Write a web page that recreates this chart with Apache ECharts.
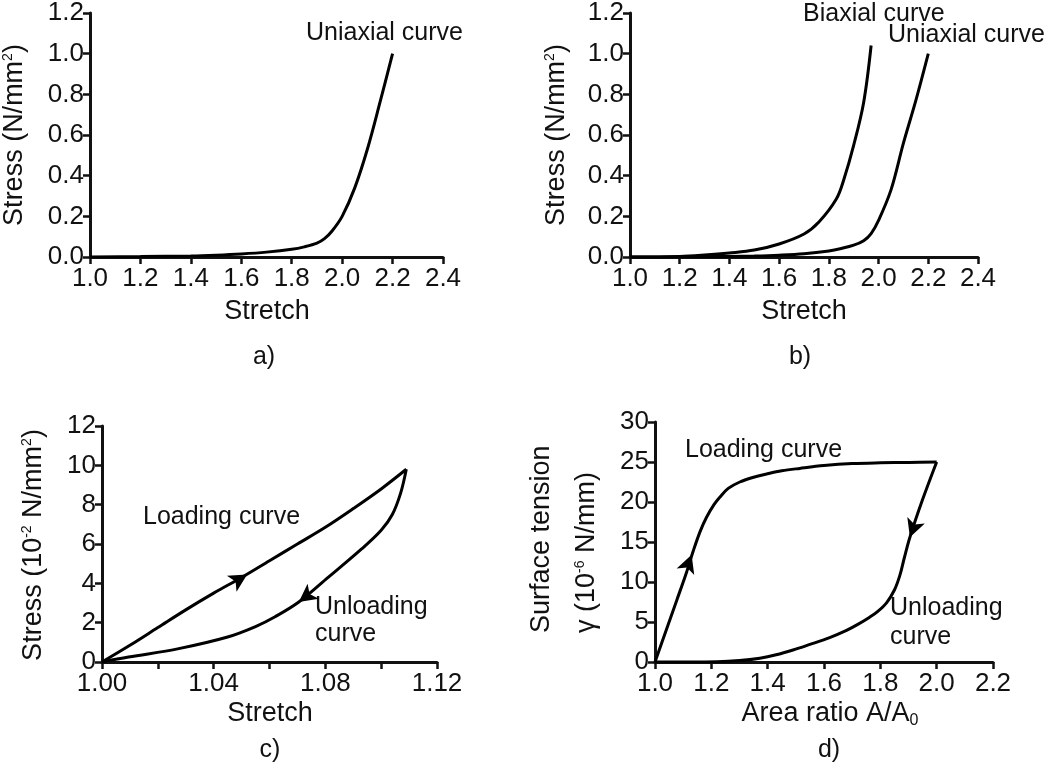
<!DOCTYPE html>
<html>
<head>
<meta charset="utf-8">
<script src="https://cdn.jsdelivr.net/npm/echarts@6/dist/echarts.min.js"></script>
<style>
html,body{margin:0;padding:0;background:#fff;}
#chart{width:1050px;height:775px;}
</style>
</head>
<body>
<div id="chart"></div>
<script>
// ---- Data ----
// Panel a: uniaxial curve
var aUniX = [1.0, 1.2, 1.4, 1.5, 1.6, 1.7, 1.8, 1.85, 1.9, 1.93, 1.96, 2.0, 2.05, 2.1, 2.15, 2.2];
var aUniY = [0, 0.002, 0.005, 0.009, 0.015, 0.024, 0.038, 0.05, 0.068, 0.09, 0.128, 0.2, 0.34, 0.53, 0.76, 1.0];
// Panel b: biaxial and uniaxial curves
var bBiX = [1.0, 1.2, 1.3, 1.4, 1.5, 1.6, 1.7, 1.76, 1.83, 1.86, 1.9, 1.94, 1.97];
var bBiY = [0, 0.003, 0.01, 0.02, 0.034, 0.064, 0.113, 0.172, 0.285, 0.38, 0.55, 0.76, 1.04];
var bUniX = [1.0, 1.2, 1.4, 1.5, 1.6, 1.7, 1.8, 1.85, 1.9, 1.94, 1.97, 2.0, 2.05, 2.1, 2.15, 2.2];
var bUniY = [0, 0.001, 0.003, 0.005, 0.009, 0.016, 0.03, 0.042, 0.058, 0.08, 0.115, 0.18, 0.33, 0.56, 0.77, 1.0];
// Panel c: hysteresis (stress in 1e-2 N/mm2)
var cLoadX = [1.0, 1.01, 1.02, 1.03, 1.04, 1.05, 1.06, 1.07, 1.08, 1.09, 1.1, 1.109];
var cLoadY = [0, 0.85, 1.75, 2.65, 3.5, 4.3, 5.15, 6.0, 6.85, 7.8, 8.8, 9.8];
var cUnloadX = [1.109, 1.107, 1.104, 1.1, 1.093, 1.081, 1.0705, 1.062, 1.055, 1.045, 1.0275, 1.0095, 1.0];
var cUnloadY = [9.8, 8.6, 7.5, 6.7, 5.75, 4.3, 3.05, 2.3, 1.8, 1.27, 0.68, 0.25, 0];
// Panel d: surface tension (1e-6 N/mm) vs area ratio
var dLoadX = [1.0, 1.04, 1.077, 1.11, 1.136, 1.16, 1.183, 1.21, 1.23, 1.26, 1.301, 1.35, 1.396, 1.45, 1.514, 1.6, 1.7, 1.8, 1.9, 2.0];
var dLoadY = [0, 4.0, 7.7, 11.0, 13.9, 16.3, 18.1, 19.7, 20.6, 21.7, 22.5, 23.1, 23.5, 23.9, 24.2, 24.55, 24.8, 24.9, 24.95, 25];
var dUnloadX = [2.0, 1.95, 1.905, 1.885, 1.869, 1.85, 1.822, 1.79, 1.762, 1.72, 1.68, 1.62, 1.55, 1.49, 1.43, 1.372, 1.3, 1.22, 1.0];
var dUnloadY = [25, 20.3, 15.6, 13.0, 10.8, 9.0, 7.4, 6.3, 5.6, 4.7, 3.95, 3.05, 2.2, 1.5, 0.9, 0.48, 0.18, 0.04, 0];
// Arrow positions (on curves)
var cLoadArrow = [1.052, 4.45];
var cUnloadArrow = [1.0705, 3.05];
var dLoadArrow = [1.13, 13.4];
var dUnloadArrow = [1.905, 15.6];
// Tick settings
var stretchTicks = {min: 1.0, max: 2.4, interval: 0.2};
var stressTicks = {min: 0, max: 1.2, interval: 0.2};
var cXTicks = {min: 1.0, max: 1.12, interval: 0.04};
var cYTicks = {min: 0, max: 12, interval: 2};
var dXTicks = {min: 1.0, max: 2.2, interval: 0.2};
var dYTicks = {min: 0, max: 30, interval: 5};

function zip(xs, ys) { return xs.map(function (x, i) { return [x, ys[i]]; }); }

var FONT = "'Liberation Sans', Arial, Helvetica, sans-serif";
var INK = '#111';
var TICKFS = 26;

function xAxis(gi, t, dec, minor) {
  return {
    type: 'value', gridIndex: gi, min: t.min, max: t.max, interval: t.interval,
    axisLine: {show: true, onZero: false, lineStyle: {color: INK, width: 3}},
    axisTick: {show: true, length: 7, lineStyle: {color: INK, width: 2.5}},
    minorTick: minor ? {show: true, splitNumber: 2, length: 7, lineStyle: {color: INK, width: 2.5}} : {show: false},
    splitLine: {show: false},
    axisLabel: {color: INK, fontSize: TICKFS, fontFamily: FONT, margin: 9,
      formatter: function (v) { return v.toFixed(dec); }}
  };
}
function yAxis(gi, t, dec) {
  return {
    type: 'value', gridIndex: gi, min: t.min, max: t.max, interval: t.interval,
    axisLine: {show: true, onZero: false, lineStyle: {color: INK, width: 3}},
    axisTick: {show: true, length: 7, lineStyle: {color: INK, width: 2.5}},
    splitLine: {show: false},
    axisLabel: {color: INK, fontSize: TICKFS, fontFamily: FONT, margin: 6,
      formatter: function (v) { return dec === 0 ? String(Math.round(v)) : v.toFixed(dec); }}
  };
}
function line(xi, yi, xs, ys, arrows) {
  var s = {
    type: 'line', xAxisIndex: xi, yAxisIndex: yi, data: zip(xs, ys),
    showSymbol: false, symbol: 'none', smooth: 0.35, silent: true,
    lineStyle: {color: '#000', width: 3}
  };
  if (arrows) {
    s.markPoint = {
      silent: true, animation: false,
      label: {show: false},
      itemStyle: {color: '#000'},
      data: arrows.map(function (a) {
        return {coord: a.c, symbol: 'arrow', symbolSize: [14, 18], symbolRotate: a.r};
      })
    };
  }
  return s;
}

var txt = function (x, y, text, opts) {
  opts = opts || {};
  return {
    type: 'text', x: x, y: y, rotation: opts.rot || 0, silent: true,
    style: {
      text: text, fill: INK, font: (opts.size || 25) + 'px ' + FONT,
      align: opts.align || 'center', verticalAlign: opts.va || 'middle',
      rich: {
        sup: {fontSize: 14, fontFamily: FONT, fill: INK, verticalAlign: 'top', padding: [0, 0, 12, 0]},
        sub: {fontSize: 16, fontFamily: FONT, fill: INK, padding: [14, 0, 0, 0]}
      }
    }
  };
};

var option = {
  backgroundColor: '#fff',
  animation: false,
  grid: [
    {left: 90, top: 8, width: 353, height: 249},
    {left: 630, top: 8, width: 348, height: 249},
    {left: 102, top: 426, width: 335, height: 236},
    {left: 655, top: 422, width: 338, height: 240}
  ],
  xAxis: [
    xAxis(0, stretchTicks, 1, false),
    xAxis(1, stretchTicks, 1, false),
    xAxis(2, cXTicks, 2, true),
    xAxis(3, dXTicks, 1, false)
  ],
  yAxis: [
    yAxis(0, stressTicks, 1),
    yAxis(1, stressTicks, 1),
    yAxis(2, cYTicks, 0),
    yAxis(3, dYTicks, 0)
  ],
  series: [
    line(0, 0, aUniX, aUniY),
    line(1, 1, bBiX, bBiY),
    line(1, 1, bUniX, bUniY),
    line(2, 2, cLoadX, cLoadY, [{c: cLoadArrow, r: -59}]),
    line(2, 2, cUnloadX, cUnloadY, [{c: cUnloadArrow, r: 127}]),
    line(3, 3, dLoadX, dLoadY, [{c: dLoadArrow, r: -20}]),
    line(3, 3, dUnloadX, dUnloadY, [{c: dUnloadArrow, r: 160}])
  ],
  graphic: [
    // y-axis names
    txt(15, 135, 'Stress (N/mm{sup|2})', {rot: Math.PI / 2, size: 27}),
    txt(557, 135, 'Stress (N/mm{sup|2})', {rot: Math.PI / 2, size: 27}),
    txt(34, 545, 'Stress (10{sup|-2} N/mm{sup|2})', {rot: Math.PI / 2, size: 27}),
    txt(542, 633, 'Surface tension', {rot: Math.PI / 2, size: 27, align: 'left'}),
    txt(587, 633, '\u03b3 (10{sup|-6} N/mm)', {rot: Math.PI / 2, size: 27, align: 'left'}),
    // x-axis names
    txt(267, 312, 'Stretch', {size: 27}),
    txt(804, 312, 'Stretch', {size: 27}),
    txt(270, 714, 'Stretch', {size: 27}),
    txt(830, 714, 'Area ratio A/A{sub|0}', {size: 27}),
    // panel labels
    txt(264, 357, 'a)', {size: 25}),
    txt(800, 357, 'b)', {size: 25}),
    txt(270, 750, 'c)', {size: 25}),
    txt(829, 750, 'd)', {size: 25}),
    // annotations
    txt(306, 33, 'Uniaxial curve', {align: 'left'}),
    txt(803, 14, 'Biaxial curve', {align: 'left'}),
    txt(888, 35, 'Uniaxial curve', {align: 'left'}),
    txt(143, 517, 'Loading curve', {align: 'left'}),
    txt(315, 607, 'Unloading', {align: 'left'}),
    txt(315, 634, 'curve', {align: 'left'}),
    txt(685, 450, 'Loading curve', {align: 'left'}),
    txt(890, 608, 'Unloading', {align: 'left'}),
    txt(890, 637, 'curve', {align: 'left'})
  ]
};

var chart = echarts.init(document.getElementById('chart'), null, {renderer: 'canvas'});
chart.setOption(option);
</script>
</body>
</html>
